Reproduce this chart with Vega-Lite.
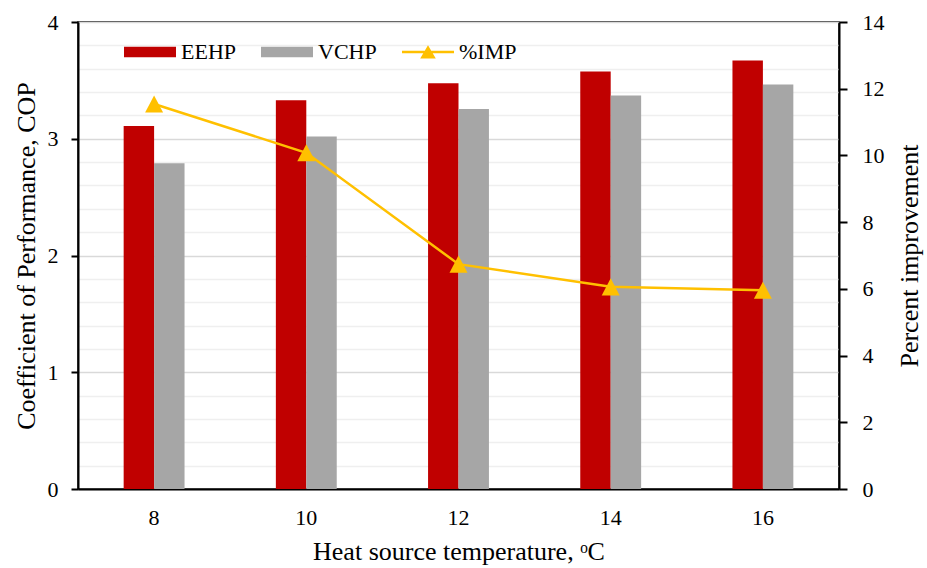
{
  "$schema": "https://vega.github.io/schema/vega-lite/v6.json",
  "width": 761,
  "height": 467,
  "autosize": {"type": "none"},
  "padding": {"left": 78, "top": 22, "right": 88, "bottom": 79},
  "background": "white",
  "config": {
    "font": "Liberation Serif",
    "view": {"stroke": "black", "strokeWidth": 1.5},
    "axis": {
      "labelFont": "Liberation Serif",
      "titleFont": "Liberation Serif",
      "labelColor": "black",
      "titleColor": "black",
      "titleFontWeight": "normal",
      "labelFontSize": 22,
      "titleFontSize": 26,
      "domainColor": "black",
      "domainWidth": 2,
      "tickColor": "black",
      "tickWidth": 2
    },
    "legend": {"labelFont": "Liberation Serif"}
  },
  "datasets": {
    "cop": [
      {"temp": 8, "series": "EEHP", "cop": 3.11},
      {"temp": 8, "series": "VCHP", "cop": 2.79},
      {"temp": 10, "series": "EEHP", "cop": 3.33},
      {"temp": 10, "series": "VCHP", "cop": 3.02},
      {"temp": 12, "series": "EEHP", "cop": 3.475},
      {"temp": 12, "series": "VCHP", "cop": 3.255},
      {"temp": 14, "series": "EEHP", "cop": 3.575},
      {"temp": 14, "series": "VCHP", "cop": 3.37},
      {"temp": 16, "series": "EEHP", "cop": 3.67},
      {"temp": 16, "series": "VCHP", "cop": 3.465}
    ],
    "imp": [
      {"temp": 8, "series": "%IMP", "imp": 11.54},
      {"temp": 10, "series": "%IMP", "imp": 10.08},
      {"temp": 12, "series": "%IMP", "imp": 6.74},
      {"temp": 14, "series": "%IMP", "imp": 6.06},
      {"temp": 16, "series": "%IMP", "imp": 5.96}
    ]
  },
  "layer": [
    {
      "data": {"name": "cop"},
      "mark": {"type": "bar"},
      "encoding": {
        "x": {
          "field": "temp",
          "type": "ordinal",
          "scale": {"paddingInner": 0.6, "paddingOuter": 0.3},
          "axis": {
            "title": "Heat source temperature, ᵒC",
            "labelFont": "Liberation Serif",
            "labelAngle": 0,
            "ticks": false,
            "labelPadding": 18,
            "titlePadding": 10
          }
        },
        "xOffset": {"field": "series", "sort": ["EEHP", "VCHP"]},
        "y": {
          "field": "cop",
          "type": "quantitative",
          "scale": {"domain": [0, 4], "nice": false},
          "axis": {
            "title": "Coefficient of Performance,  COP",
            "labelFont": "Liberation Serif",
            "values": [0, 0.2, 0.4, 0.6, 0.8, 1, 1.2, 1.4, 1.6, 1.8, 2, 2.2, 2.4, 2.6, 2.8, 3, 3.2, 3.4, 3.6, 3.8, 4],
            "labelExpr": "datum.value % 1 === 0 ? format(datum.value, 'd') : ''",
            "grid": true,
            "gridWidth": 1.5,
            "gridColor": {"condition": {"test": "datum.value % 1 === 0", "value": "#d9d9d9"}, "value": "#efefef"},
            "tickColor": {"condition": {"test": "datum.value % 1 === 0", "value": "black"}, "value": "transparent"},
            "tickSize": 7,
            "labelPadding": 13,
            "titlePadding": 8
          }
        },
        "color": {
          "field": "series",
          "type": "nominal",
          "scale": {"domain": ["EEHP", "VCHP", "%IMP"], "range": ["#c00000", "#a6a6a6", "#ffc000"]},
          "legend": {
            "title": null,
            "orient": "none",
            "legendX": 46,
            "legendY": 4,
            "direction": "horizontal",
            "padding": 0,
            "labelFont": "Liberation Serif",
            "labelFontSize": 22,
            "labelColor": "black",
            "labelOffset": 5,
            "columnPadding": 25,
            "symbolSize": 2704,
            "symbolStrokeWidth": 0,
            "encode": {
              "symbols": {
                "update": {
                  "shape": {"signal": "datum.value === '%IMP' ? 'M-1,-0.05H1V0.05H-1Z M-0.3,0.25L0,-0.26L0.3,0.25Z' : 'M-1,-0.2H1V0.2H-1Z'"},
                  "fill": {"signal": "datum.value === 'EEHP' ? '#c00000' : datum.value === 'VCHP' ? '#a6a6a6' : '#ffc000'"},
                  "opacity": {"value": 1},
                  "fillOpacity": {"value": 1},
                  "strokeWidth": {"value": 0}
                }
              }
            }
          }
        }
      }
    },
    {
      "data": {"name": "imp"},
      "encoding": {
        "x": {"field": "temp", "type": "ordinal"},
        "y": {
          "field": "imp",
          "type": "quantitative",
          "scale": {"domain": [0, 14], "nice": false},
          "axis": {
            "orient": "right",
            "title": "Percent improvement",
            "labelFont": "Liberation Serif",
            "values": [0, 2, 4, 6, 8, 10, 12, 14],
            "grid": false,
            "tickSize": 8,
            "labelPadding": 15,
            "titleAngle": 270,
            "titlePadding": 38
          }
        },
        "color": {"field": "series", "type": "nominal"}
      },
      "layer": [
        {"mark": {"type": "line", "strokeWidth": 2.5}},
        {"mark": {"type": "point", "shape": "M0,-0.95L1,0.95L-1,0.95Z", "filled": true, "size": 324, "opacity": 1}}
      ]
    }
  ],
  "resolve": {"scale": {"y": "independent"}}
}
